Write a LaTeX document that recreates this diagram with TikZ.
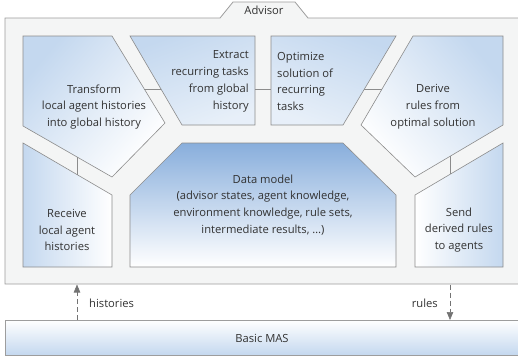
\documentclass[tikz,border=0pt]{standalone}
\usepackage{fontspec}
\setmainfont{Open Sans}
\usetikzlibrary{arrows.meta}
\definecolor{bluel}{RGB}{196,216,239}
\definecolor{blued}{RGB}{136,174,220}
\definecolor{bord}{RGB}{140,140,140}
\definecolor{outerfill}{RGB}{244,245,245}
\definecolor{txt}{RGB}{50,50,50}
\tikzset{
  outerbox/.style={draw=bord!85, line width=0.8pt, fill=outerfill},
  stepshape/.style={draw=bord, line width=0.6pt},
  lbl/.style={text=txt, font=\fontsize{11.2}{16.8}\selectfont, inner sep=0pt},
  link/.style={draw=bord, line width=0.6pt},
  flow/.style={draw=black!55, line width=0.6pt, dash pattern=on 5pt off 3pt,
    -{Triangle[length=8pt,width=6.5pt]}},
}
\begin{document}
\begin{tikzpicture}[x=1pt,y=-1pt]
\useasboundingbox (0,0) rectangle (518,362);
\clip (0,0) rectangle (518,362);
% outer advisor box with tab
\path[outerbox] (5,18) -- (220,18) -- (233,2) -- (295,2) -- (308,18) -- (525,18) -- (525,284) -- (5,284) -- cycle;
\node[lbl] (adv) at (264,10.5) {Advisor};
% shapes
\path[stepshape, top color=bluel, bottom color=white, shading angle=50]
  (23,36) -- (112,36) -- (165,123) -- (112,177) -- (23,126) -- cycle;
\path[stepshape, top color=bluel, bottom color=white!60!bluel, shading angle=20]
  (130,36) -- (255,36) -- (255,125) -- (182,125) -- cycle;
\path[stepshape, top color=bluel, bottom color=white!60!bluel, shading angle=-20]
  (271,36) -- (396,36) -- (343,125) -- (271,125) -- cycle;
\path[stepshape, top color=bluel, bottom color=white, shading angle=-50]
  (413,36) -- (503,36) -- (503,125) -- (415,177) -- (361,125) -- cycle;
\path[stepshape, left color=bluel, right color=white]
  (23,143) -- (112,195) -- (112,267) -- (23,267) -- cycle;
\path[stepshape, top color=blued, bottom color=white]
  (130,195) -- (182,143) -- (343,143) -- (396,195) -- (396,267) -- (130,267) -- cycle;
\path[stepshape, left color=white, right color=bluel]
  (415,195) -- (503,143) -- (503,267) -- (415,267) -- cycle;
% Basic MAS
\path[outerbox, top color=white, bottom color=bluel] (5,320) rectangle (525,355);
\node[lbl] (mas) at (262,338) {Basic MAS};
% labels
\node[lbl, align=center] (transform) at (94,107) {Transform\\local agent histories\\into global history};
\node[lbl, align=right, anchor=east] (extract) at (249,81.5) {Extract\\recurring tasks\\from global\\history};
\node[lbl, align=left, anchor=west] (optimize) at (277,81.5) {Optimize\\solution of\\recurring\\tasks};
\node[lbl, align=center] (derive) at (433,107) {Derive\\rules from\\optimal solution};
\node[lbl, align=center] (receive) at (67,230) {Receive\\local agent\\histories};
\node[lbl, align=center] (data) at (263,205) {Data model\\(advisor states, agent knowledge,\\environment knowledge, rule sets,\\intermediate results, \dots)};
\node[lbl, align=center] (send) at (459,230) {Send\\derived rules\\to agents};
% connector endpoints
\coordinate (tE) at (144.3,89);
\coordinate (xW) at (161,89);
\coordinate (xE) at (255,89);
\coordinate (oW) at (271,89);
\coordinate (oE) at (364.4,89);
\coordinate (dW) at (382,89);
\coordinate (tS) at (77,157);
\coordinate (rN) at (77,174.5);
\coordinate (dS) at (450,156.3);
\coordinate (sN) at (450,174.3);
\draw[link] (tE) -- (xW);
\draw[link] (xE) -- (oW);
\draw[link] (oE) -- (dW);
\draw[link] (tS) -- (rN);
\draw[link] (dS) -- (sN);
% flows
\coordinate (hB) at (77,320);
\coordinate (hT) at (77,284.5);
\coordinate (rT) at (450,284.5);
\coordinate (rB) at (450,320);
\draw[flow] (hB) -- (hT);
\draw[flow] (rT) -- (rB);
\node[lbl, anchor=west] (hist) at (89,303) {histories};
\node[lbl, anchor=east] (rules) at (438,303) {rules};
\end{tikzpicture}
\end{document}
